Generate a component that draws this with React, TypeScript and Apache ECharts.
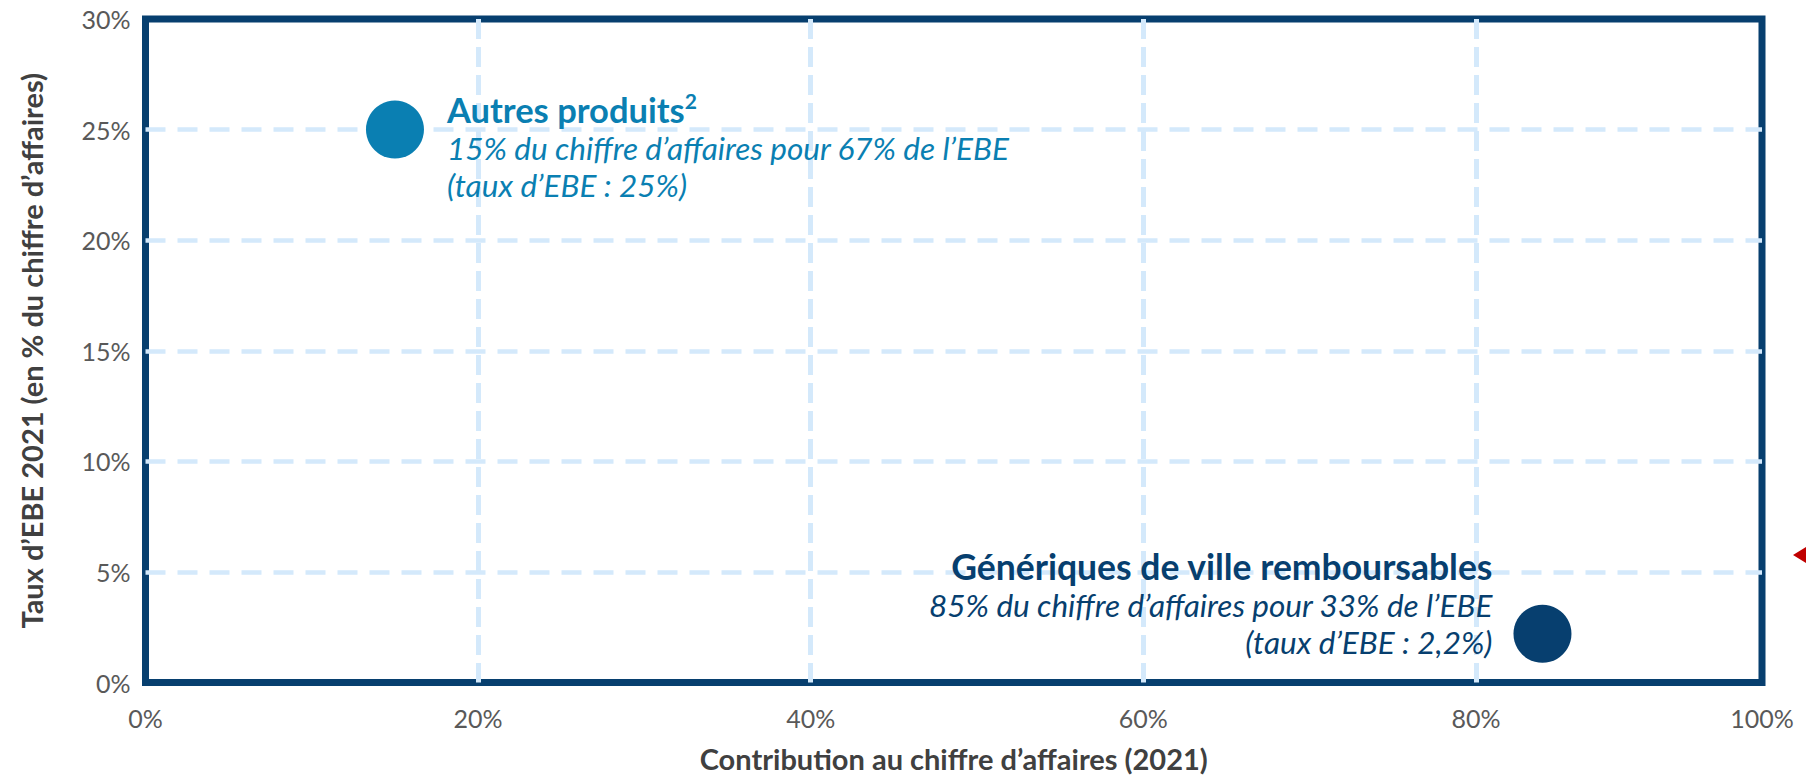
import React, { useEffect, useRef } from "react";
import * as echarts from "echarts";

const xTickLabels = ["0%", "20%", "40%", "60%", "80%", "100%"];
const yTickLabels = ["0%", "5%", "10%", "15%", "20%", "25%", "30%"];
const categories = ["Autres produits", "Génériques de ville remboursables"];
const caShare = [15, 84]; // contribution au chiffre d'affaires (%)
const ebeRate = [25, 2.2]; // taux d'EBE (%)
const descLines = [
  ["15% du chiffre d’affaires pour 67% de l’EBE", "(taux d’EBE : 25%)"],
  ["85% du chiffre d’affaires pour 33% de l’EBE", "(taux d’EBE : 2,2%)"],
];
const xAxisMax = 97.2;

const NAVY = "#073F6F";
const BLUE = "#0A7FB2";
const GRID = "#D4E9FB";
const FONT = "Lato, 'Open Sans', sans-serif";

export default function App() {
  const ref = useRef<HTMLDivElement>(null);
  useEffect(() => {
    if (!ref.current) return;
    const chart = echarts.init(ref.current, null, { renderer: "svg" });
    const colors = [BLUE, NAVY];
    const data = categories.map((name, i) => ({
      name,
      value: [caShare[i], ebeRate[i]],
      itemStyle: { color: colors[i], opacity: 1 },
      label:
        i === 0
          ? {
              show: true,
              position: "right",
              distance: 23,
              offset: [0, 17],
              formatter: `{t|${name}}{s|2}\n{i|${descLines[i][0]}}\n{i|${descLines[i][1]}}`,
              rich: {
                t: { fontFamily: FONT, fontWeight: "bold", fontSize: 34.5, color: BLUE, lineHeight: 40 },
                s: { fontFamily: FONT, fontWeight: "bold", fontSize: 21, color: BLUE, lineHeight: 22, verticalAlign: "top" },
                i: { fontFamily: FONT, fontStyle: "italic", fontSize: 31.5, color: BLUE, lineHeight: 37 },
              },
            }
          : {
              show: true,
              position: "left",
              distance: 21,
              offset: [0, -30],
              align: "right",
              formatter: `{t|${name}}\n{i|${descLines[i][0]}}\n{i|${descLines[i][1]}}`,
              rich: {
                t: { fontFamily: FONT, fontWeight: "bold", fontSize: 35.5, color: NAVY, lineHeight: 40, align: "right" },
                i: { fontFamily: FONT, fontStyle: "italic", fontSize: 31.5, color: NAVY, lineHeight: 37, align: "right" },
              },
            },
    }));

    chart.setOption({
      animation: false,
      backgroundColor: "#ffffff",
      grid: {
        left: 145.5,
        right: 44,
        top: 19,
        bottom: 92,
        show: true,
        borderColor: NAVY,
        borderWidth: 7,
        backgroundColor: "transparent",
      },
      xAxis: {
        type: "value",
        min: 0,
        max: xAxisMax,
        interval: 20,
        name: "Contribution au chiffre d’affaires (2021)",
        nameLocation: "middle",
        nameGap: 76,
        nameTextStyle: { fontFamily: FONT, fontWeight: "bold", fontSize: 29, color: "#404040", verticalAlign: "middle" },
        axisLine: { show: false },
        axisTick: { show: false },
        axisLabel: {
          showMinLabel: true,
          showMaxLabel: true,
          margin: 23,
          fontFamily: FONT,
          fontSize: 25,
          color: "#595959",
          formatter: (_v: number, idx: number) => xTickLabels[idx] ?? "",
        },
        splitLine: {
          show: true,
          showMinLine: false,
          showMaxLine: false,
          lineStyle: { color: GRID, width: 5, type: [20, 8] },
        },
      },
      yAxis: {
        type: "value",
        min: 0,
        max: 30,
        interval: 5,
        name: "Taux d’EBE 2021 (en % du chiffre d’affaires)",
        nameLocation: "middle",
        nameGap: 114,
        nameRotate: 90,
        nameTextStyle: { fontFamily: FONT, fontWeight: "bold", fontSize: 29, color: "#404040", verticalAlign: "middle" },
        axisLine: { show: false },
        axisTick: { show: false },
        axisLabel: {
          margin: 15,
          fontFamily: FONT,
          fontSize: 25,
          color: "#595959",
          padding: [20, 0, 0, 0],
          formatter: (_v: number, idx: number) => yTickLabels[idx] ?? "",
        },
        splitLine: {
          show: true,
          showMinLine: false,
          showMaxLine: false,
          lineStyle: { color: GRID, width: 4.5, type: [20, 12] },
        },
      },
      series: [
        {
          type: "scatter",
          symbol: "circle",
          symbolSize: 58,
          data,
          z: 5,
        },
      ],
      graphic: [
        {
          type: "polygon",
          shape: { points: [[1793, 555], [1806, 547], [1806, 563]] },
          style: { fill: "#C00000" },
        },
      ],
    });
    return () => chart.dispose();
  }, []);
  return <div ref={ref} style={{ position: "fixed", left: 0, top: 0, width: 1806, height: 778 }} />;
}
